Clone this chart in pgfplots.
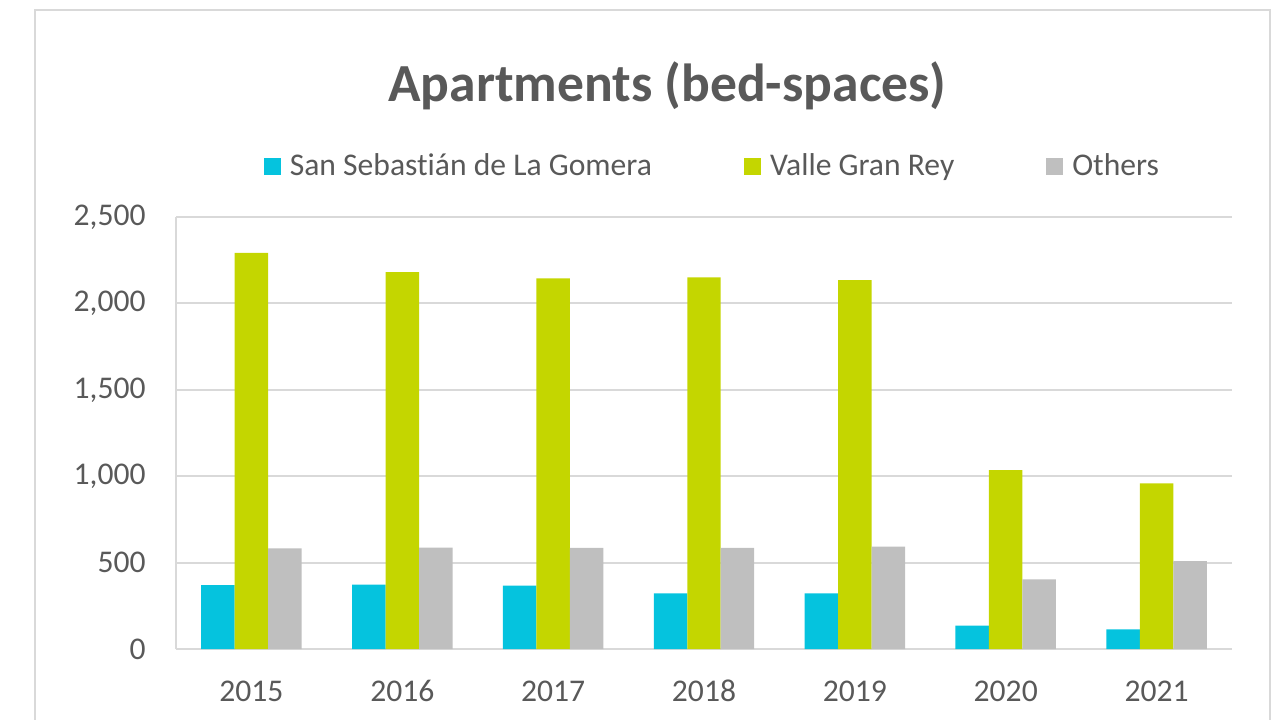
\documentclass[border=0pt]{standalone}
\usepackage{fontspec}
\setmainfont{Carlito}[Ligatures=NoCommon]
\usepackage{pgfplots}
\pgfplotsset{compat=1.18}
\definecolor{cyanb}{HTML}{05C3DE}
\definecolor{greenb}{HTML}{C4D600}
\definecolor{grayb}{HTML}{BFBFBF}
\definecolor{txt}{HTML}{595959}
\definecolor{gridc}{HTML}{D9D9D9}
\begin{document}
\begin{tikzpicture}[x=0.5pt,y=0.5pt]
\useasboundingbox (0,0) rectangle (1277,719);
\draw[gridc, line width=1pt] (35,-5) -- (35,709) -- (1270,709) -- (1270,-5);
\begin{axis}[
  at={(88pt,35pt)}, anchor=south west,
  scale only axis, width=528pt, height=216pt,
  ybar=0pt, bar width=0.222,
  xmin=-0.5, xmax=6.5, ymin=0, ymax=2500,
  xtick={0,1,2,3,4,5,6},
  xticklabels={2015,2016,2017,2018,2019,2020,2021},
  ytick={0,500,1000,1500,2000,2500},
  ymajorgrids, grid style={gridc, line width=1pt},
  axis x line*=bottom, axis y line*=left,
  axis line style={gridc, line width=1pt, -},
  major tick length=0pt,
  /pgf/number format/.cd, fixed, 1000 sep={,}, assume math mode=true,
  /pgfplots/.cd,
  ticklabel style={font=\fontsize{15.8}{18}\selectfont, text=txt, inner sep=0pt},
  yticklabel style={xshift=-15pt},
  xticklabel style={anchor=base, yshift=-26pt},
  title={Apartments (bed-spaces)},
  title style={at={(0.4654,1.24)}, anchor=base, font=\bfseries\fontsize{26.8}{30}\selectfont, text=txt},
  legend columns=3,
  legend style={at={(0.507,1.118)}, anchor=center, draw=none, fill=none,
    font=\fontsize{15.8}{18}\selectfont, text=txt,
    nodes={inner sep=0pt},
    /tikz/every odd column/.append style={column sep=4.5pt},
    /tikz/every even column/.append style={column sep=46pt}},
  legend image code/.code={\fill[#1] (0pt,-4.25pt) rectangle (8.5pt,4.25pt);},
]
\addplot[fill=cyanb, draw=none] coordinates {(0,369) (1,373) (2,367) (3,322) (4,322) (5,135) (6,114)};
\addplot[fill=greenb, draw=none] coordinates {(0,2293) (1,2181) (2,2145) (3,2151) (4,2135) (5,1035) (6,959)};
\addplot[fill=grayb, draw=none] coordinates {(0,583) (1,587) (2,585) (3,585) (4,593) (5,403) (6,508)};
\legend{San Sebastián de La Gomera, Valle Gran Rey, Others}
\end{axis}
\end{tikzpicture}
\end{document}
